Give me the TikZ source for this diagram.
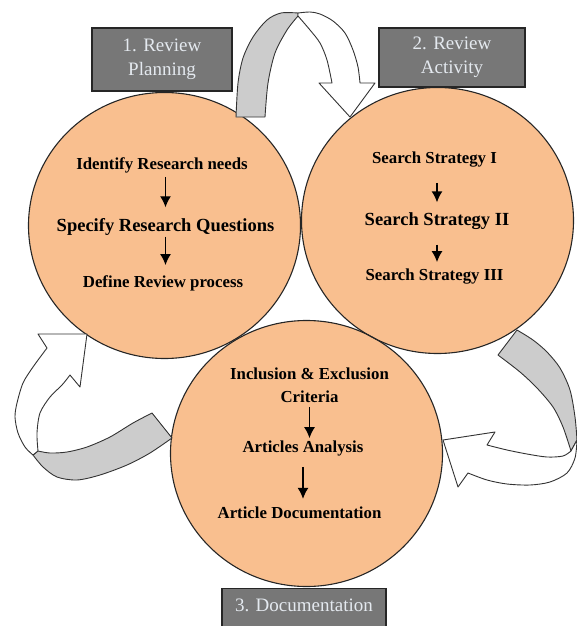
\documentclass[tikz,border=0pt]{standalone}
\usepackage{fontspec}
\setmainfont{Liberation Serif}
\usetikzlibrary{shapes.geometric,arrows.meta}

\definecolor{peach}{HTML}{F9BF8F}
\definecolor{tagfill}{HTML}{777777}
\definecolor{tagtext}{HTML}{E4E9EF}
\definecolor{bandback}{HTML}{CCCCCC}

\begin{document}
\begin{tikzpicture}[
     x=1pt, y=-1pt,
     % define styles
     phase/.style={
         ellipse,
         fill=peach,
         minimum width=272pt,
         minimum height=266pt,
         inner sep=0pt
     },
     ring/.style={
         phase,
         fill=none,
         draw=black!85,
         line width=1.1pt
     },
     tag/.style={
         draw=black!85,
         fill=tagfill,
         line width=1.4pt,
         text=tagtext,
         align=center,
         font=\fontsize{19}{24}\selectfont
     },
     item/.style={
         font=\fontsize{16.8}{23}\selectfont\bfseries,
         align=center,
         inner sep=1pt
     },
     big/.style={
         item,
         font=\fontsize{18.5}{23}\selectfont\bfseries
     },
     band/.style={
         draw=black!80,
         line width=0.9pt,
         line join=round
     },
     flow/.style={
         ->,
         line width=1.4pt
     },
     >={Latex[length=11pt,width=11pt]}
]
\useasboundingbox (0,0) rectangle (576,626);

% the three phases, filled first so that every outline stays visible
\node[phase] (doc) at (306.5,453.5) {};
\node[phase] (plan) at (164.5,225.5) {};
\node[phase] (act) at (437.5,220.5) {};
\foreach \c in {doc,plan,act}
    \node[ring] (\c-ring) at (\c) {};

% headings
\node[tag, minimum width=140pt, minimum height=63pt] (plan-tag) at (162,59.5) {1. Review\\Planning};
\node[tag, minimum width=146pt, minimum height=59pt] (act-tag) at (452,57.5) {2. Review\\Activity};
\node[tag, anchor=north, minimum width=164pt, inner ysep=5pt,
      text height=18pt, text depth=24pt] (doc-tag) at (304,588) {3. Documentation};

% ribbon over the top: planning -> activity
\draw[band, fill=bandback]
    plot[smooth] coordinates {(236,117) (238,83) (243,58) (253,37) (267,20) (281,13) (298,13)}
    -- plot[smooth] coordinates {(298,16) (287,30) (275,53) (268,83) (265,117)}
    -- cycle;
\draw[band, fill=white]
    plot[smooth] coordinates {(298,13) (310,12) (320,14) (333,21) (345,33) (353,50) (358,67) (360,83)}
    -- (375,83) -- (350,117) -- (319,83) -- (332,83)
    -- plot[smooth] coordinates {(332,83) (327,60) (320,43) (310,30) (298,16)}
    -- cycle;

% ribbon on the right: activity -> documentation
\draw[band, fill=bandback]
    plot[smooth] coordinates {(517,330) (533,340) (547,352) (560,368) (570,390) (575,417) (577,440)}
    -- (571,451)
    -- plot[smooth] coordinates {(571,451) (563,427) (553,407) (537,388) (520,372) (498,355)}
    -- cycle;
\draw[band, fill=white]
    plot[smooth] coordinates {(571,451) (563,456) (547,457) (527,454) (507,450) (487,445)}
    -- (495,432) -- (443,440) -- (458,487) -- (468,473)
    -- plot[smooth] coordinates {(468,473) (487,480) (507,484) (530,485) (550,482) (567,473) (575,458) (577,440)}
    -- cycle;

% ribbon on the left: documentation -> planning
\draw[band, fill=bandback]
    plot[smooth] coordinates {(152,413) (133,423) (110,437) (87,447) (67,452) (50,453) (38,451)}
    -- (33,455)
    -- plot[smooth] coordinates {(33,455) (43,467) (57,477) (77,480) (100,475) (127,465) (150,453) (172,438)}
    -- cycle;
\draw[band, fill=white]
    plot[smooth] coordinates {(33,455) (25,447) (18,433) (15,417) (17,403) (23,383) (33,367) (47,348)}
    -- (38,334) -- (87,334) -- (80,387) -- (70,375)
    -- plot[smooth] coordinates {(70,375) (62,385) (50,397) (40,413) (37,433) (38,451)}
    -- cycle;

% planning steps
\node[item] (needs) at (162,165) {Identify Research needs};
\node[big] (quest) at (165.5,227) {Specify Research Questions};
\node[item] (define) at (163,283) {Define Review process};

% activity steps
\node[item] (s1) at (434.5,160) {Search Strategy I};
\node[big] (s2) at (437,221) {Search Strategy II};
\node[item] (s3) at (434.5,277) {Search Strategy III};

% documentation steps
\node[item] (criteria) at (309.5,385.5) {Inclusion \& Exclusion\\Criteria};
\node[item] (analysis) at (303,448) {Articles Analysis};
\node[item] (record) at (299.5,513) {Article Documentation};

\draw[flow, shorten <=3pt, shorten >=10pt] (needs.south -| quest.north) -- (quest.north);
\draw[flow, shorten >=9pt] (quest.south) -- (quest.south |- define.north);
\draw[flow, shorten <=14pt, shorten >=9pt] (s1.south -| s2.north) -- (s2.north);
\draw[flow, shorten <=14pt, shorten >=6pt] (s2.south) -- (s2.south |- s3.north);
\draw[flow, shorten <=3pt, shorten >=1pt] (criteria.south) -- (criteria.south |- analysis.north);
\draw[flow, shorten <=10pt, shorten >=7pt] (analysis.south) -- (analysis.south |- record.north);
\end{tikzpicture}
\end{document}
